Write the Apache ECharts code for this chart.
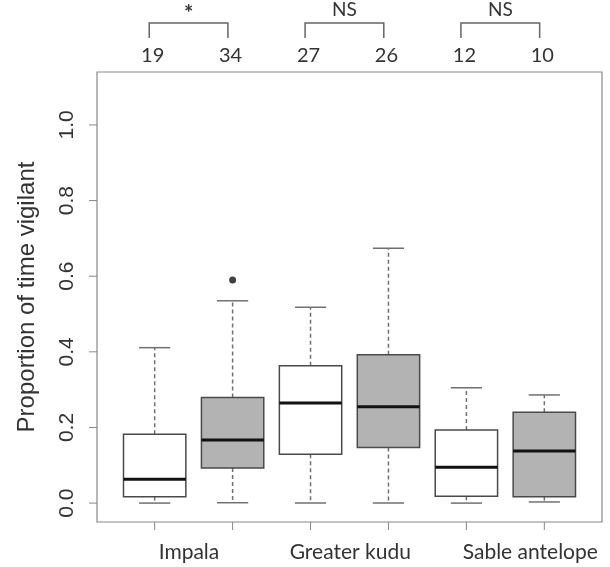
<!DOCTYPE html>
<html>
<head>
<meta charset="utf-8">
<script src="https://cdn.jsdelivr.net/npm/echarts@6/dist/echarts.min.js"></script>
<style>
html,body{margin:0;padding:0;background:#fff;}
#chart{width:610px;height:567px;}
</style>
</head>
<body>
<div id="chart"></div>
<script>
// ---- data ----
var positions = [1, 2, 3, 4, 5, 6];
var lowerWhisker = [0.000, 0.001, 0.000, 0.000, 0.000, 0.003];
var q1 = [0.017, 0.093, 0.129, 0.147, 0.018, 0.017];
var median = [0.063, 0.167, 0.265, 0.255, 0.095, 0.138];
var q3 = [0.182, 0.279, 0.363, 0.392, 0.193, 0.240];
var upperWhisker = [0.411, 0.535, 0.518, 0.674, 0.305, 0.286];
var fillGroup = [0, 1, 0, 1, 0, 1];           // 0 = white, 1 = grey
var outliers = [[2, 0.590]];
var sampleSizes = ['19', '34', '27', '26', '12', '10'];
var comparisonPairs = [[1, 2], [3, 4], [5, 6]];
var comparisonLabels = ['*', 'NS', 'NS'];
var speciesLabels = ['Impala', 'Greater kudu', 'Sable antelope'];
var speciesLabelPos = [1.44, 3.51, 5.82];
var yTicks = [0.0, 0.2, 0.4, 0.6, 0.8, 1.0];
var yTitle = 'Proportion of time vigilant';

// ---- layout ----
var X_MIN = 0.26, X_MAX = 6.74, Y_MIN = -0.05, Y_MAX = 1.14;
var fills = ['#ffffff', '#b3b3b3'];
var boxStroke = '#4a4a4a';
var whiskerStroke = '#707070';
var textColor = '#333333';
var labelFont = 'Lato';
var tickFont = 'Liberation Sans';

var chart = echarts.init(document.getElementById('chart'));

var boxData = positions.map(function (p, i) {
  return [p, lowerWhisker[i], q1[i], median[i], q3[i], upperWhisker[i], fillGroup[i]];
});

function boxRender(params, api) {
  var x = api.value(0);
  var lw = api.value(1), b1 = api.value(2), md = api.value(3), b3 = api.value(4), uw = api.value(5);
  var g = api.value(6);
  var halfBox = api.size([0.4, 0])[0];
  var halfCap = api.size([0.2, 0])[0];
  var pLw = api.coord([x, lw]), pQ1 = api.coord([x, b1]), pMd = api.coord([x, md]),
      pQ3 = api.coord([x, b3]), pUw = api.coord([x, uw]);
  var cx = pMd[0];
  return {
    type: 'group',
    children: [
      {type: 'line', shape: {x1: cx, y1: pQ3[1], x2: cx, y2: pUw[1]},
        style: {stroke: whiskerStroke, lineWidth: 1.5, lineDash: [4, 3]}},
      {type: 'line', shape: {x1: cx, y1: pQ1[1], x2: cx, y2: pLw[1]},
        style: {stroke: whiskerStroke, lineWidth: 1.5, lineDash: [4, 3]}},
      {type: 'line', shape: {x1: cx - halfCap, y1: pUw[1], x2: cx + halfCap, y2: pUw[1]},
        style: {stroke: whiskerStroke, lineWidth: 1.5}},
      {type: 'line', shape: {x1: cx - halfCap, y1: pLw[1], x2: cx + halfCap, y2: pLw[1]},
        style: {stroke: whiskerStroke, lineWidth: 1.5}},
      {type: 'rect', shape: {x: cx - halfBox, y: pQ3[1], width: 2 * halfBox, height: pQ1[1] - pQ3[1]},
        style: {fill: fills[g], stroke: boxStroke, lineWidth: 1.5}},
      {type: 'line', shape: {x1: cx - halfBox, y1: pMd[1], x2: cx + halfBox, y2: pMd[1]},
        style: {stroke: '#111', lineWidth: 3}}
    ]
  };
}

function yTickRender(params, api) {
  var v = api.value(0);
  var p = api.coord([X_MIN, v]);
  return {
    type: 'group',
    children: [
      {type: 'line', shape: {x1: p[0] - 8, y1: p[1], x2: p[0], y2: p[1]},
        style: {stroke: '#888', lineWidth: 1}},
      {type: 'text', x: p[0] - 30, y: p[1], rotation: Math.PI / 2,
        style: {text: v.toFixed(1), fill: textColor, font: '21px "' + tickFont + '"',
          align: 'center', verticalAlign: 'middle'}}
    ]
  };
}

function xTickRender(params, api) {
  var x = api.value(0);
  var p = api.coord([x, Y_MIN]);
  return {type: 'line', shape: {x1: p[0], y1: p[1], x2: p[0], y2: p[1] + 8},
    style: {stroke: '#888', lineWidth: 1}};
}

function speciesRender(params, api) {
  var x = api.value(0);
  var p = api.coord([x, Y_MIN]);
  return {type: 'text', x: p[0], y: p[1] + 30,
    style: {text: speciesLabels[params.dataIndex], fill: textColor, font: '21px "' + labelFont + '"',
      align: 'center', verticalAlign: 'middle'}};
}

function sizeRender(params, api) {
  var x = api.value(0);
  var p = api.coord([x, Y_MAX]);
  return {type: 'text', x: p[0] - 2, y: p[1] - 16,
    style: {text: sampleSizes[params.dataIndex], fill: textColor, font: '20px "' + labelFont + '"',
      align: 'center', verticalAlign: 'middle'}};
}

function bracketRender(params, api) {
  var a = api.value(0), b = api.value(1);
  var pa = api.coord([a - 0.07, Y_MAX]), pb = api.coord([b - 0.06, Y_MAX]);
  var top = pa[1] - 49, bot = pa[1] - 34;
  var lab = comparisonLabels[params.dataIndex];
  var isStar = lab === '*';
  return {
    type: 'group',
    children: [
      {type: 'polyline', shape: {points: [[pa[0], bot], [pa[0], top], [pb[0], top], [pb[0], bot]]},
        style: {stroke: '#666', lineWidth: 1.5, fill: null}},
      {type: 'text', x: (pa[0] + pb[0]) / 2, y: isStar ? top - 9 : top - 13,
        style: {text: lab, fill: textColor, font: (isStar ? 'bold 22px' : '19px') + ' "' + labelFont + '"',
          align: 'center', verticalAlign: 'middle'}}
    ]
  };
}

var option = {
  animation: false,
  backgroundColor: '#fff',
  grid: {left: 97, right: 8, top: 72, bottom: 45, show: true, borderColor: '#888', borderWidth: 1.2,
    backgroundColor: 'transparent'},
  xAxis: {type: 'value', min: X_MIN, max: X_MAX, show: false},
  yAxis: {type: 'value', min: Y_MIN, max: Y_MAX,
    axisLine: {show: false}, axisTick: {show: false}, axisLabel: {show: false}, splitLine: {show: false},
    name: yTitle, nameLocation: 'middle', nameGap: 58, nameRotate: 90,
    nameTextStyle: {fontFamily: tickFont, fontSize: 24, color: textColor}},
  series: [
    {type: 'custom', renderItem: boxRender, data: boxData, clip: false, silent: true},
    {type: 'scatter', data: outliers, symbol: 'circle', symbolSize: 7,
      itemStyle: {color: '#111'}, silent: true},
    {type: 'custom', renderItem: yTickRender, data: yTicks.map(function (v) { return [v]; }), clip: false, silent: true},
    {type: 'custom', renderItem: xTickRender, data: positions.map(function (v) { return [v]; }), clip: false, silent: true},
    {type: 'custom', renderItem: speciesRender, data: speciesLabelPos.map(function (v) { return [v]; }), clip: false, silent: true},
    {type: 'custom', renderItem: sizeRender, data: positions.map(function (v) { return [v]; }), clip: false, silent: true},
    {type: 'custom', renderItem: bracketRender, data: comparisonPairs, clip: false, silent: true}
  ]
};
chart.setOption(option);
</script>
</body>
</html>
